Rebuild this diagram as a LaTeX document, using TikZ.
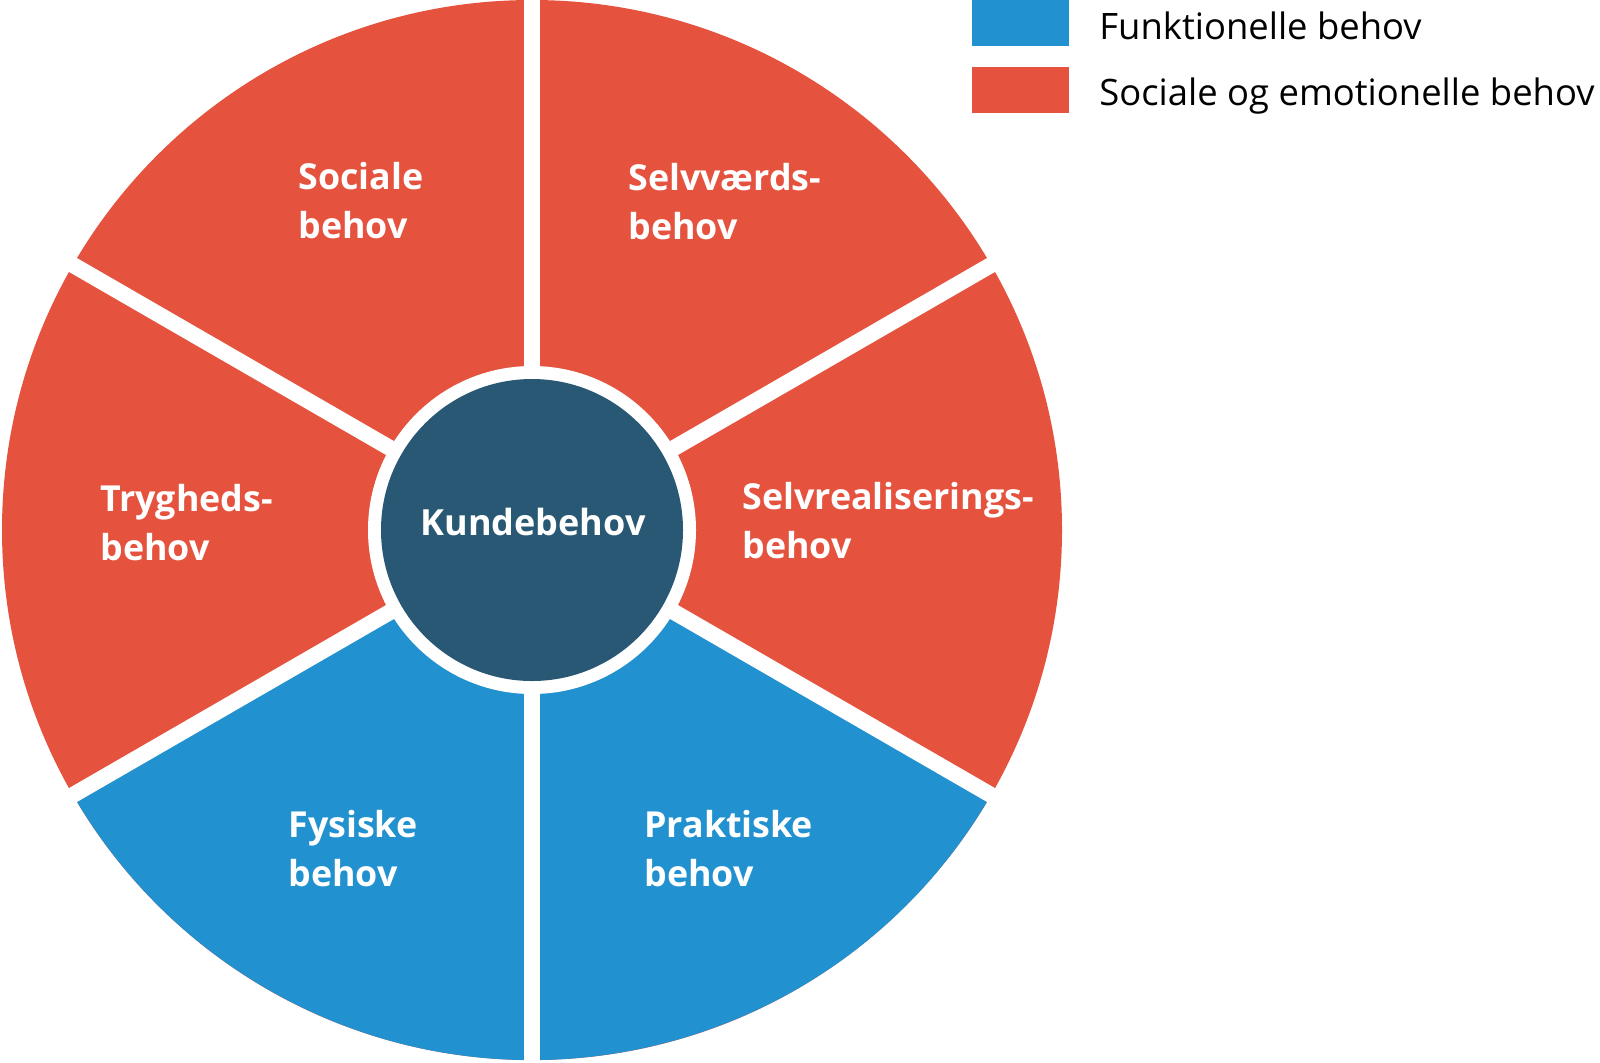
\documentclass[tikz,border=0pt]{standalone}
\usepackage{fontspec}
\setmainfont{Open Sans}
\definecolor{segred}{RGB}{229,82,62}
\definecolor{segblue}{RGB}{34,145,207}
\definecolor{hubdark}{RGB}{40,88,115}
\begin{document}
\begin{tikzpicture}[x=0.5pt,y=-0.5pt,
  seglabel/.style={anchor=base west,align=left,text=white,inner sep=0pt,
    font=\fontsize{17.9}{24.5}\selectfont\bfseries},
  legtext/.style={anchor=base west,inner sep=0pt,text=black,
    font=\fontsize{18.2}{22}\selectfont},
  legbox/.style={inner sep=0pt,minimum width=48.5pt,minimum height=23pt,anchor=north west}]
\useasboundingbox (0,0) rectangle (1600,1062);
\coordinate (c) at (532,530);
% wheel
\fill[segred] (c) circle[radius=530];
\fill[segblue] (c) -- ++(30:530) arc[start angle=30,end angle=150,radius=530] -- cycle;
\foreach \a in {30,90,150,210,270,330}
  \draw[white,line width=8pt] (c) -- ++(\a:532);
\fill[white] (c) circle[radius=164];
\node[circle,fill=hubdark,minimum size=151pt,inner sep=0pt] (hub) at (c) {};
\node[anchor=base,text=white,inner sep=0pt,font=\fontsize{18}{22}\selectfont\bfseries] (kunde) at (533,535) {Kundebehov};
% segment labels (anchor = baseline of the last line)
\node[seglabel] (soc) at (298,238) {Sociale\\behov};
\node[seglabel] (selvv) at (628,239) {Selvværds-\\behov};
\node[seglabel] (tryg) at (100,560) {Trygheds-\\behov};
\node[seglabel] (selvr) at (742,558) {Selvrealiserings-\\behov};
\node[seglabel] (fys) at (288,886) {Fysiske\\behov};
\node[seglabel] (prak) at (644,886) {Praktiske\\behov};
% legend
\node[legbox,fill=segblue] (lb) at (972,0) {};
\node[legbox,fill=segred] (lr) at (972,67) {};
\node[legtext] (lbt) at (1099,39) {Funktionelle behov};
\node[legtext] (lrt) at (1099,105) {Sociale og emotionelle behov};
\end{tikzpicture}
\end{document}
